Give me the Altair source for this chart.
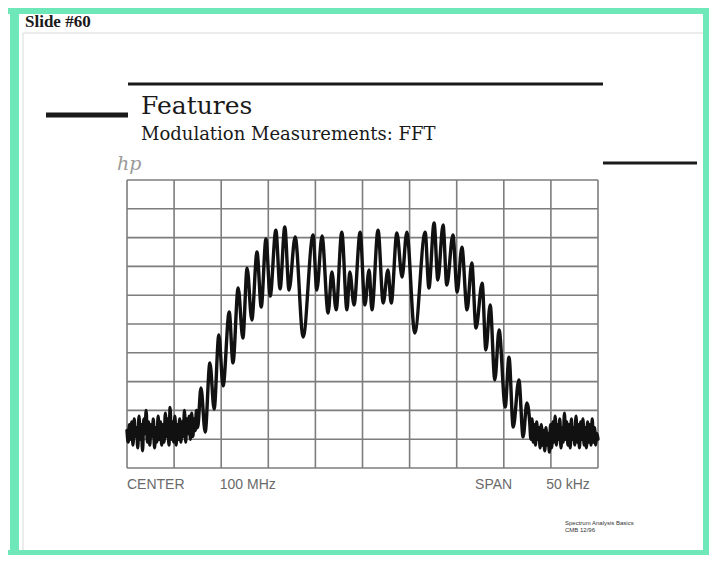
import altair as alt
import numpy as np
import pandas as pd

# ---------------- data (screen divisions: x 0..10, y 0..10 from bottom) ----------------
grid_lines = list(range(11))

# peaks / troughs of the FFT trace
trace_x = [1.57, 1.66, 1.76, 1.85, 1.95, 2.04, 2.17, 2.25, 2.36, 2.46, 2.55, 2.65,
           2.76, 2.85, 2.95, 3.04, 3.16, 3.25, 3.35, 3.44, 3.57, 3.74, 3.95, 4.03,
           4.14, 4.27, 4.35, 4.44, 4.56, 4.67, 4.73, 4.82, 4.95, 5.05, 5.14, 5.20,
           5.33, 5.44, 5.54, 5.61, 5.73, 5.84, 5.94, 6.11, 6.33, 6.41, 6.52, 6.60,
           6.71, 6.79, 6.92, 7.01, 7.11, 7.22, 7.32, 7.41, 7.54, 7.62, 7.71, 7.81,
           7.90, 8.03, 8.11, 8.20, 8.32, 8.41, 8.49]
trace_y = [2.78, 1.25, 3.65, 2.05, 4.62, 2.85, 5.42, 3.65, 6.25, 4.51, 6.94, 5.14,
           7.50, 5.59, 7.95, 5.97, 8.26, 6.22, 8.37, 6.18, 8.02, 4.55, 8.09, 6.18,
           8.06, 5.38, 6.81, 5.49, 8.19, 5.49, 6.81, 5.66, 8.19, 5.66, 6.88, 5.49,
           8.26, 5.73, 6.88, 5.73, 8.16, 6.63, 8.19, 4.69, 8.19, 6.25, 8.51, 6.53,
           8.44, 6.35, 8.09, 6.11, 7.67, 5.49, 7.12, 4.86, 6.42, 4.10, 5.66, 3.06,
           4.79, 2.12, 3.85, 1.42, 3.06, 1.08, 2.26]

# noise floor samples (left: x 0..1.5, right: x 8.55..10)
noise_left = [1.3, 0.9, 1.5, 1.0, 1.6, 0.8, 1.7, 1.1, 1.4, 0.7, 1.8, 1.0, 1.5, 0.6, 1.7,
              1.2, 2.0, 0.9, 1.6, 0.8, 1.5, 1.1, 1.7, 0.7, 1.4, 0.9, 1.8, 1.0, 1.6, 0.8,
              1.5, 0.9, 1.9, 1.1, 1.7, 0.8, 2.1, 1.0, 1.6, 0.9, 1.8, 0.8, 1.5, 1.0, 1.7,
              0.9, 1.6, 1.1, 2.0, 0.9, 1.7, 1.2, 1.8, 1.0, 1.9, 1.1, 1.7, 1.3, 2.0, 1.4]
noise_right = [1.6, 1.0, 1.7, 0.9, 1.5, 0.8, 1.6, 1.0, 1.4, 0.7, 1.5, 0.8, 1.3, 0.6, 1.4,
               0.8, 1.2, 0.55, 1.5, 0.7, 1.6, 0.9, 1.8, 0.8, 1.5, 1.0, 1.7, 0.7, 1.4, 0.9,
               1.9, 1.0, 1.6, 0.8, 1.5, 0.7, 1.7, 1.0, 1.4, 0.8, 1.8, 0.9, 1.5, 0.7, 1.6,
               1.0, 1.7, 0.8, 1.4, 0.7, 1.6, 0.9, 1.5, 0.8, 1.7, 0.9, 1.4, 0.8, 1.2, 1.0]
noise_left_span = (0.0, 1.50)
noise_right_span = (8.55, 10.0)

axis_labels = ["CENTER", "100 MHz", "SPAN", "50 kHz"]
axis_label_x = [0.0, 1.97, 7.39, 8.9]

# ---------------- build tables ----------------
xs = (list(np.linspace(*noise_left_span, len(noise_left))) + trace_x +
      list(np.linspace(*noise_right_span, len(noise_right))))
ys = noise_left + trace_y + noise_right
trace_df = pd.DataFrame({"x": xs, "y": ys, "i": range(len(xs))})

vgrid = pd.DataFrame({"x": grid_lines, "y": 0, "y2": 10})
hgrid = pd.DataFrame({"y": grid_lines, "x": 0, "x2": 10})
lab_df = pd.DataFrame({"x": axis_label_x, "y": -0.59, "t": axis_labels})

M = 8  # page margin
X0, X1, Y0, Y1 = 127, 598, 468, 180
xs_ = alt.Scale(domain=[0, 10], range=[X0 - M, X1 - M])
ys_ = alt.Scale(domain=[0, 10], range=[Y0 - M, Y1 - M])

GRID = "#7d7d7d"

vg = alt.Chart(vgrid).mark_rule(color=GRID, strokeWidth=1.6).encode(
    x=alt.X("x:Q", scale=xs_, axis=None),
    y=alt.Y("y:Q", scale=ys_, axis=None), y2="y2:Q")
hg = alt.Chart(hgrid).mark_rule(color=GRID, strokeWidth=1.6).encode(
    x=alt.X("x:Q", scale=xs_, axis=None), x2="x2:Q",
    y=alt.Y("y:Q", scale=ys_, axis=None))

line = alt.Chart(trace_df).mark_line(
    color="#111111", strokeWidth=3.4, interpolate="monotone",
    strokeJoin="round", strokeCap="round").encode(
    x=alt.X("x:Q", scale=xs_, axis=None),
    y=alt.Y("y:Q", scale=ys_, axis=None),
    order="i:Q")

labels = alt.Chart(lab_df).mark_text(
    align="left", baseline="middle", font="Liberation Sans", fontSize=14,
    color="#6a6a6a").encode(
    x=alt.X("x:Q", scale=xs_, axis=None),
    y=alt.Y("y:Q", scale=ys_, axis=None),
    text="t:N")


def rect(x0, x1, y0, y1, color):
    return alt.Chart().mark_rect(color=color).encode(
        x=alt.value(x0 - M), x2=alt.value(x1 - M),
        y=alt.value(y0 - M), y2=alt.value(y1 - M))


def hrule(x0, x1, y, w, color="#1a1a1a"):
    return alt.Chart().mark_rule(color=color, strokeWidth=w).encode(
        x=alt.value(x0 - M), x2=alt.value(x1 - M), y=alt.value(y - M))


def vrule(x, y0, y1, w, color):
    return alt.Chart().mark_rule(color=color, strokeWidth=w).encode(
        x=alt.value(x - M), y=alt.value(y0 - M), y2=alt.value(y1 - M))


def text(s, x, y, size, font="DejaVu Serif", color="#1a1a1a", weight="normal",
         style="normal", align="left"):
    return alt.Chart().mark_text(
        text=s, align=align, baseline="middle", font=font, fontSize=size,
        color=color, fontWeight=weight, fontStyle=style).encode(
        x=alt.value(x - M), y=alt.value(y - M))


GREEN = "#6ee7b9"
frame = [
    rect(8, 709, 8, 14, GREEN),
    rect(10, 19, 8, 555, GREEN),
    rect(703, 709, 8, 555, GREEN),
    rect(8, 709, 550, 555, GREEN),
    hrule(23, 703, 33, 1, "#d9d9d9"),
    vrule(23, 33, 550, 1, "#d9d9d9"),
]

deco = [
    hrule(128, 603, 84, 3),
    hrule(46, 128, 115, 5),
    hrule(603, 697, 163, 3),
    text("Slide #60", 25, 22, 17, font="Liberation Serif", weight="bold"),
    text("Features", 141, 106, 25),
    text("Modulation Measurements: FFT", 141, 135, 18),
    text("hp", 117, 164, 19, color="#9a9a9a", style="italic", weight="lighter"),
    text("Spectrum Analysis Basics", 565, 523, 6, font="Liberation Sans", color="#333"),
    text("CMB   12/96", 565, 530, 6, font="Liberation Sans", color="#333"),
]

chart = alt.layer(*frame, *deco, vg, hg, line, labels).properties(
    width=701, height=547, padding=0, autosize=alt.AutoSizeParams(type="none"),
    background="white"
).configure_view(strokeWidth=0)

chart.save("out.html", embed_options={"renderer": "svg", "actions": False})
